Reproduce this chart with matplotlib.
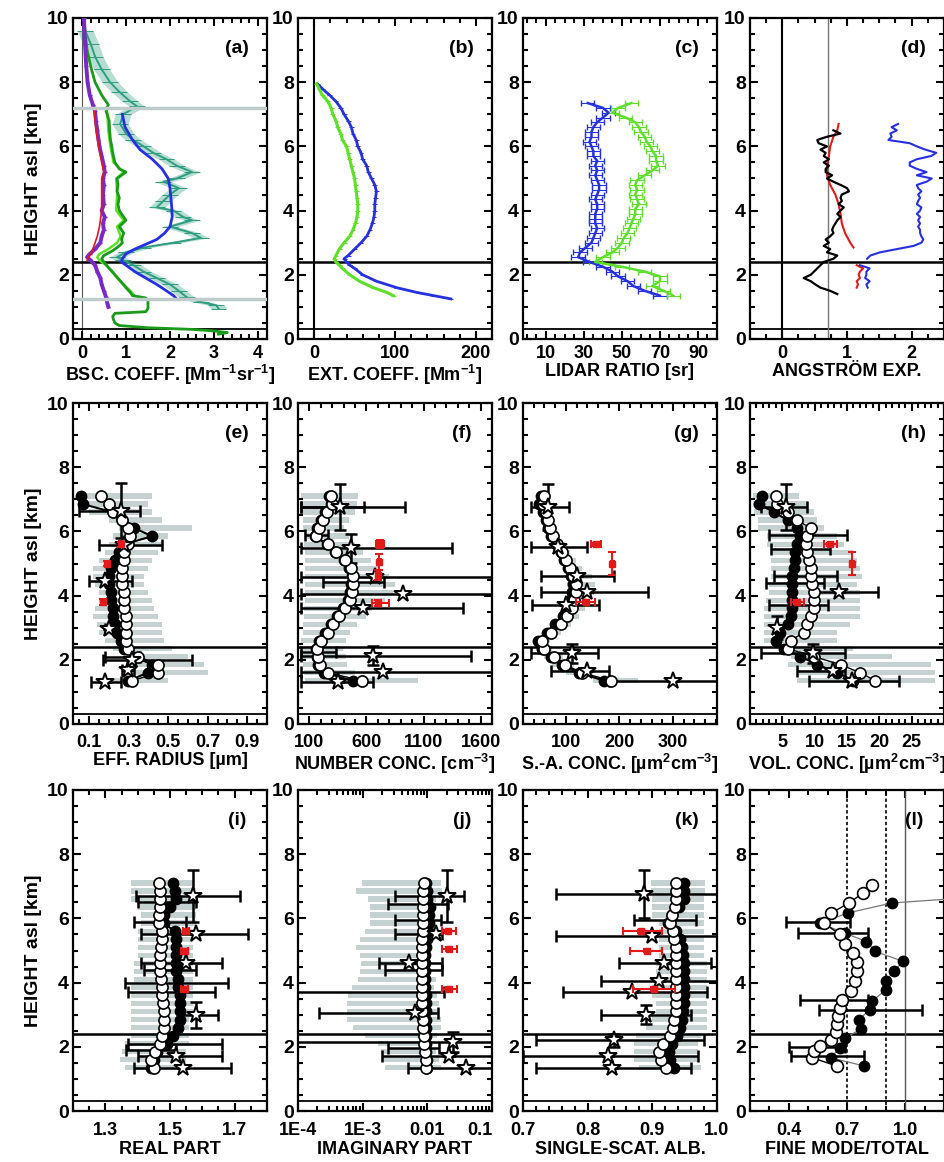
import numpy as np
import matplotlib
matplotlib.use("Agg")
import matplotlib.pyplot as plt
from matplotlib.ticker import MultipleLocator, NullFormatter, LogLocator

plt.rcParams['font.family'] = ['Liberation Sans Narrow', 'Liberation Sans', 'DejaVu Sans']
plt.rcParams['font.weight'] = 'bold'
plt.rcParams['mathtext.fontset'] = 'custom'
plt.rcParams['mathtext.rm'] = 'Liberation Sans:bold'
plt.rcParams['mathtext.default'] = 'rm'

# ---------------- colours ----------------
BLUE = '#2530e0'
LGREEN = '#5ee02a'
DGREEN = '#1a9a1a'
TEAL = '#2f9e80'
PURPLE = '#7a28c8'
RED = '#e21a1a'
GRAY = '#c6d2d2'

# ---------------- panel (a) backscatter ----------------
A_H_PU = [10, 9.5, 9, 8.5, 8, 7.6, 7.3, 7.1, 6.8, 6.5, 6.2, 6.0, 5.7, 5.4, 5.2, 5.0, 4.8, 4.5, 4.2, 4.0,
          3.8, 3.6, 3.4, 3.2, 3.0, 2.8, 2.65, 2.55, 2.45, 2.3, 2.1, 1.9, 1.7, 1.5, 1.3, 1.1, 1.0]
A_PU = [0.05, 0.06, 0.08, 0.1, 0.13, 0.18, 0.25, 0.3, 0.32, 0.35, 0.38, 0.4, 0.45, 0.5, 0.52, 0.48, 0.5, 0.48, 0.5, 0.45,
        0.52, 0.48, 0.5, 0.45, 0.42, 0.3, 0.18, 0.12, 0.2, 0.3, 0.35, 0.42, 0.45, 0.5, 0.55, 0.58, 0.6]
A_H_RD = [7.1, 6.5, 6.0, 5.5, 5.2, 5.0, 4.5, 4.0, 3.5, 3.2, 3.0, 2.8, 2.65, 2.55, 2.45]
A_RD = [0.28, 0.32, 0.38, 0.45, 0.5, 0.45, 0.45, 0.45, 0.4, 0.35, 0.3, 0.25, 0.2, 0.15, 0.12]
A_H_DG = [10, 9.5, 9, 8.5, 8, 7.6, 7.3, 7.1, 6.8, 6.5, 6.2, 6.0, 5.8, 5.5, 5.3, 5.2, 5.0, 4.8, 4.6, 4.4,
          4.2, 4.0, 3.8, 3.7, 3.5, 3.3, 3.1, 3.0, 2.9, 2.75, 2.6, 2.5, 2.4, 2.2, 2.0, 1.8, 1.6, 1.45, 1.35, 1.28,
          1.2, 0.95, 0.85, 0.8, 0.7, 0.6, 0.5, 0.42, 0.35, 0.3, 0.25, 0.2, 0.15]
A_DG = [0.05, 0.08, 0.12, 0.2, 0.3, 0.45, 0.6, 0.55, 0.62, 0.63, 0.65, 0.68, 0.7, 0.75, 0.85, 1.0, 0.8, 0.82, 0.8, 0.85,
        0.82, 0.85, 0.95, 1.0, 0.85, 0.95, 0.9, 0.92, 0.85, 0.7, 0.5, 0.45, 0.5, 0.62, 0.75, 0.88, 1.0, 1.1, 1.15, 1.45,
        1.5, 1.5, 1.45, 0.75, 0.7, 0.72, 0.75, 0.85, 1.5, 2.5, 3.0, 3.3, 3.1]
A_H_LG = [7.2, 7.0, 6.5, 6.0, 5.5, 5.2, 5.0, 4.5, 4.0, 3.7, 3.5, 3.2, 3.0, 2.8, 2.65, 2.55, 2.45, 2.3, 2.1, 1.9,
          1.7, 1.5, 1.35]
A_LG = [0.55, 0.58, 0.6, 0.65, 0.72, 0.95, 0.78, 0.8, 0.78, 0.95, 0.8, 0.88, 0.8, 0.6, 0.4, 0.35, 0.4, 0.55, 0.7, 0.8,
        0.95, 1.1, 1.2]
A_H_TE = [9.6, 9.2, 8.8, 8.4, 8.0, 7.7, 7.4, 7.25, 7.0, 6.7, 6.4, 6.2, 6.0, 5.8, 5.6, 5.4, 5.2, 5.0, 4.9, 4.7,
          4.5, 4.3, 4.1, 4.0, 3.8, 3.7, 3.5, 3.3, 3.15, 3.0, 2.85, 2.7, 2.55, 2.45, 2.3, 2.1, 1.9, 1.7, 1.5, 1.3,
          1.15, 1.05, 0.95]
A_TE = [0.08, 0.2, 0.3, 0.45, 0.64, 0.85, 1.1, 1.25, 0.94, 0.87, 1.0, 1.17, 1.4, 1.62, 1.92, 2.15, 2.5, 2.15, 1.85, 2.2,
        2.0, 1.85, 1.7, 2.08, 2.3, 2.5, 2.0, 2.5, 2.7, 2.08, 1.4, 1.0, 0.8, 0.94, 1.17, 1.4, 1.7, 2.0, 2.2, 2.38,
        2.7, 3.05, 3.1]
A_TE_ERR = 0.18
A_H_BL = [7.0, 6.6, 6.2, 5.9, 5.6, 5.3, 5.0, 4.7, 4.4, 4.1, 3.8, 3.5, 3.3, 3.1, 2.95, 2.8, 2.65, 2.5, 2.4, 2.25,
          2.1, 1.9, 1.7, 1.5, 1.35, 1.25]
A_BL = [0.92, 0.98, 1.15, 1.32, 1.6, 1.82, 1.96, 2.0, 2.02, 2.04, 2.05, 2.0, 1.88, 1.7, 1.45, 1.2, 1.0, 0.92, 0.9, 1.05,
        1.2, 1.45, 1.7, 1.92, 2.08, 2.15]
A_GRAYLINES = [7.2, 1.25]

# ---------------- panel (b) extinction ----------------
B_H = [7.95, 7.8, 7.6, 7.4, 7.2, 7.0, 6.8, 6.6, 6.4, 6.2, 6.0, 5.8, 5.6, 5.4, 5.2, 5.0, 4.8, 4.6, 4.4, 4.2,
       4.0, 3.8, 3.6, 3.4, 3.2, 3.0, 2.8, 2.6, 2.5, 2.4, 2.3, 2.2, 2.0, 1.8, 1.6, 1.45, 1.35, 1.25]
B_BLUE = [4, 10, 19, 27, 33, 37, 42, 46, 48, 52, 54, 58, 60, 65, 67, 71, 75, 77, 76, 75,
          75, 74, 72, 69, 65, 58, 50, 42, 37, 40, 44, 50, 60, 77, 102, 127, 148, 169]
B_GREEN = [3, 6, 10, 17, 21, 23, 27, 29, 33, 35, 40, 42, 44, 46, 48, 50, 51, 52, 53, 54,
           54, 53, 51, 48, 44, 37, 31, 27, 25, 27, 31, 35, 44, 56, 73, 90, 98, np.nan]

# ---------------- panel (c) lidar ratio ----------------
C_H = [7.35, 7.2, 7.05, 6.9, 6.75, 6.6, 6.45, 6.3, 6.15, 6.0, 5.85, 5.7, 5.55, 5.4, 5.25, 5.1, 4.95, 4.8, 4.65, 4.5,
       4.35, 4.2, 4.05, 3.9, 3.75, 3.6, 3.45, 3.3, 3.15, 3.0, 2.85, 2.7, 2.55, 2.4, 2.25, 2.1, 1.95, 1.8, 1.65, 1.5, 1.35]
C_BLUE = [32, 40, 43, 40, 37, 35, 34, 34, 33, 34, 35, 35, 37, 36, 37, 36, 37, 38, 38, 37,
          36, 37, 37, 36, 36, 36, 37, 36, 35, 34, 31, 28, 27, 33, 40, 45, 48, 53, 56, 62, 70]
C_GREEN = [55, 48, 45, 52, 57, 59, 60, 62, 63, 65, 66, 68, 68, 69, 66, 62, 58, 57, 58, 57,
           58, 59, 57, 57, 56, 55, 54, 53, 51, 50, 48, 45, 40, 36, 50, 62, 70, 70, 66, 72, 77]

# ---------------- panel (d) Angstrom ----------------
D_H_BK = [6.5, 6.4, 6.3, 6.2, 6.1, 6.0, 5.9, 5.8, 5.7, 5.6, 5.5, 5.4, 5.3, 5.2, 5.1, 5.0, 4.9, 4.8, 4.7, 4.6,
          4.5, 4.4, 4.3, 4.2, 4.1, 4.0, 3.9, 3.8, 3.7, 3.6, 3.5, 3.4, 3.3, 3.2, 3.1, 3.0, 2.9, 2.8, 2.7, 2.6,
          2.5, 2.4, 2.3, 2.2, 2.1, 2.0, 1.9, 1.8, 1.7, 1.6, 1.5, 1.4]
D_BK = [0.79, 0.9, 0.69, 0.54, 0.56, 0.69, 0.59, 0.67, 0.64, 0.72, 0.64, 0.72, 0.67, 0.67, 0.77, 0.69, 0.79, 0.9, 1.0, 1.03,
        0.92, 0.9, 0.92, 0.87, 0.95, 0.9, 0.85, 0.9, 0.85, 0.82, 0.79, 0.77, 0.79, 0.74, 0.67, 0.72, 0.64, 0.74, 0.69, 0.85,
        0.79, 0.64, 0.59, 0.54, 0.49, 0.44, 0.33, 0.44, 0.51, 0.59, 0.74, 0.85]
D_H_RD1 = [6.7, 6.5, 6.3, 6.0, 5.7, 5.4, 5.1, 4.8, 4.5, 4.2, 3.9, 3.6, 3.3, 3.0, 2.85]
D_RD1 = [0.87, 0.85, 0.79, 0.74, 0.72, 0.69, 0.69, 0.74, 0.82, 0.87, 0.9, 0.92, 0.97, 1.05, 1.1]
D_H_LOW = [2.3, 2.2, 2.1, 2.0, 1.9, 1.8, 1.7, 1.6]
D_RD2 = [1.15, 1.25, 1.2, 1.18, 1.2, 1.15, 1.17, 1.15]
D_H_BL1 = [6.7, 6.6, 6.5, 6.4, 6.3, 6.2, 6.1, 6.0, 5.9, 5.8, 5.7, 5.6, 5.5, 5.4, 5.3, 5.2, 5.1, 5.0, 4.9, 4.8,
           4.7, 4.6, 4.5, 4.4, 4.3, 4.2, 4.1, 4.0, 3.9, 3.8, 3.7, 3.6, 3.5, 3.4, 3.3, 3.2, 3.1, 3.0, 2.9, 2.8,
           2.7, 2.6, 2.5]
D_BL1 = [1.79, 1.69, 1.77, 1.67, 1.69, 1.64, 1.97, 2.08, 2.21, 2.38, 2.3, 2.08, 1.97, 1.97, 2.08, 2.23, 2.08, 2.31, 2.23, 2.08,
         2.1, 2.15, 2.1, 2.13, 2.1, 2.08, 2.15, 2.13, 2.08, 2.13, 2.1, 2.13, 2.1, 2.13, 2.13, 2.15, 2.18, 2.15, 2.03, 1.77,
         1.51, 1.36, 1.31]
D_BL2 = [1.2, 1.35, 1.3, 1.3, 1.28, 1.35, 1.3, 1.32]

# ---------------- profiles (e)-(k): common height grid ----------------
H = [1.35, 1.6, 1.85, 2.1, 2.35, 2.6, 2.85, 3.1, 3.35, 3.6, 3.85, 4.1, 4.35, 4.6, 4.85, 5.1, 5.35, 5.6, 5.85, 6.1,
     6.35, 6.6, 6.85, 7.1]

# (e) effective radius
E_FILL = [0.30, 0.40, 0.42, 0.33, 0.28, 0.26, 0.24, 0.23, 0.22, 0.22, 0.21, 0.21, 0.20, 0.20, 0.21, 0.23, 0.25, 0.28, 0.42, 0.33,
          0.27, 0.22, 0.07, 0.06]
E_OPEN = [0.32, 0.45, 0.45, 0.35, 0.30, 0.29, 0.29, 0.29, 0.29, 0.28, 0.28, 0.28, 0.27, 0.27, 0.27, 0.28, 0.28, 0.30, 0.31, 0.30,
          0.27, 0.22, 0.20, 0.16]
E_GLO = [0.22, 0.28, 0.30, 0.28, 0.22, 0.18, 0.15, 0.14, 0.12, 0.13, 0.15, 0.15, 0.13, 0.12, 0.12, 0.15, 0.18, 0.20, 0.22, 0.25,
         0.20, 0.10, 0.06, 0.05]
E_GHI = [0.50, 0.70, 0.68, 0.60, 0.52, 0.48, 0.47, 0.47, 0.45, 0.43, 0.42, 0.40, 0.38, 0.38, 0.40, 0.42, 0.45, 0.48, 0.50, 0.62,
         0.47, 0.42, 0.40, 0.42]
E_SH = [1.32, 1.67, 2.0, 2.97, 4.45, 5.57, 6.65]
E_SX = [0.18, 0.30, 0.32, 0.20, 0.18, 0.28, 0.26]
E_SLO = [0.11, 0.27, 0.17, 0.18, 0.10, 0.15, 0.05]
E_SHI = [0.26, 0.33, 0.62, 0.22, 0.32, 0.47, 0.36]
E_SYE = [0, 0, 0, 0, 0, 0, 0.85]
E_XH = [2.1]
E_XLO = [0.18]
E_XHI = [0.36]
E_RH = [3.8, 5.0, 5.6]
E_RX = [0.17, 0.19, 0.26]
E_RLO = [0.16, 0.18, 0.25]
E_RHI = [0.18, 0.20, 0.27]
E_RYE = [0.08, 0.08, 0.08]

# (f) number concentration
F_FILL = [480, 230, 175, 165, 160, 185, 240, 290, 340, 395, 440, 455, 465, 475, 450, 400, 320, 250, 145, 165,
          200, 235, 290, 270]
F_OPEN = [560, 260, 190, 175, 170, 200, 260, 310, 360, 410, 455, 470, 480, 485, 465, 415, 335, 260, 160, 180,
          215, 250, 300, 285]
F_GLO = [60, 50, 40, 40, 30, 30, 40, 40, 50, 50, 60, 60, 60, 60, 60, 60, 60, 50, 50, 40, 40, 40, 30, 30]
F_GHI = [1050, 500, 430, 420, 390, 420, 460, 520, 600, 650, 760, 830, 850, 800, 720, 640, 570, 500, 450, 400,
         450, 500, 520, 530]
F_SH = [1.32, 1.62, 2.13, 3.62, 4.06, 4.58, 5.47, 6.77]
F_SX = [350, 745, 658, 570, 923, 673, 468, 365]
F_SLO = [27, 27, 27, 27, 27, 27, 27, 30]
F_SHI = [660, 1800, 1520, 1450, 1800, 1800, 1350, 938]
F_SYE = [0, 0, 0.3, 0, 0, 0, 0.45, 0.72]
F_XH = [2.25, 4.42, 5.9, 6.77]
F_XLO = [27, 223, 60, 30]
F_XHI = [330, 750, 260, 580]
F_RH = [3.77, 4.65, 5.05, 5.6]
F_RX = [700, 705, 712, 715]
F_RLO = [650, 690, 700, 680]
F_RHI = [800, 720, 725, 750]
F_RYE = [0.1, 0.15, 0.25, 0.12]

# (g) surface-area concentration
G_FILL = [171, 125, 92, 72, 55, 48, 65, 80, 94, 104, 108, 112, 113, 110, 104, 97, 90, 81, 72, 66,
          62, 58, 50, 53]
G_OPEN = [184, 130, 98, 78, 60, 55, 72, 90, 103, 112, 116, 118, 118, 114, 108, 100, 92, 84, 76, 70,
          66, 62, 58, 60]
G_GLO = [150, 100, 75, 60, 45, 40, 55, 70, 85, 95, 100, 103, 103, 100, 95, 88, 80, 72, 64, 58,
         54, 50, 42, 45]
G_GHI = [235, 150, 115, 95, 75, 70, 90, 110, 125, 135, 140, 152, 155, 148, 130, 118, 108, 98, 88, 80,
         76, 72, 66, 65]
G_SH = [1.35, 1.65, 2.2, 3.7, 4.1, 4.6, 5.5, 6.77]
G_SX = [300, 140, 112, 100, 140, 120, 85, 66]
G_SLO = [180, 73, 35, 37, 53, 53, 35, 35]
G_SHI = [400, 180, 160, 162, 253, 190, 140, 106]
G_SYE = [0, 0, 0.3, 0, 0, 0, 0, 0.72]
G_XH = []
G_XLO = []
G_XHI = []
G_RH = [3.8, 5.0, 5.6]
G_RX = [137, 187, 156]
G_RLO = [119, 184, 146]
G_RHI = [155, 190, 166]
G_RYE = [0.05, 0.35, 0.05]

# (h) volume concentration
V_FILL = [16.0, 13.5, 10.4, 7.8, 5.3, 4.0, 4.7, 5.8, 6.3, 6.5, 6.5, 6.5, 6.5, 6.5, 6.8, 7.0, 7.0, 7.3, 7.8, 7.3,
          5.8, 3.7, 1.4, 1.9]
V_OPEN = [19.4, 17.0, 14.0, 9.9, 5.8, 6.3, 8.3, 8.8, 9.4, 9.9, 9.9, 9.9, 9.6, 9.4, 9.4, 9.1, 8.8, 8.6, 8.8, 9.4,
          7.3, 5.8, 4.2, 4.0]
V_GLO = [7.3, 7.3, 5.8, 6.3, 6.3, 2.2, 2.2, 2.2, 2.2, 2.2, 2.5, 3.0, 3.0, 3.2, 3.2, 3.2, 3.2, 2.7, 2.7, 1.2,
         1.2, 0.6, 0.4, 0.4]
V_GHI = [28.6, 28.6, 28.0, 22.0, 16.0, 13.5, 13.5, 15.5, 17.0, 17.0, 17.0, 17.0, 16.6, 17.3, 17.0, 16.5, 16.0, 14.5, 13.5, 11.4,
         10.4, 9.9, 8.9, 7.6]
V_SH = [1.35, 1.65, 2.2, 3.0, 4.1, 6.77]
V_SX = [15.8, 12.9, 9.8, 4.2, 13.7, 5.5]
V_SLO = [9.1, 7.3, 1.7, 4.2, 9.8, 1.7]
V_SHI = [23.0, 14.7, 14.7, 4.2, 19.8, 8.8]
V_SYE = [0, 0, 0.3, 0.35, 0, 0.72]
V_XH = [3.7, 4.4, 4.6, 5.45, 5.9]
V_XLO = [3.0, 2.4, 3.7, 3.2, 3.0]
V_XHI = [12.0, 11.4, 13.5, 12.4, 15.0]
V_RH = [3.8, 5.0, 5.6]
V_RX = [7.3, 15.8, 12.4]
V_RLO = [6.3, 15.5, 11.4]
V_RHI = [8.3, 16.1, 13.4]
V_RYE = [0.05, 0.35, 0.05]

# (i) real part
I_FILL = [1.44, 1.45, 1.46, 1.49, 1.51, 1.525, 1.53, 1.53, 1.53, 1.53, 1.525, 1.525, 1.52, 1.52, 1.52, 1.52, 1.52, 1.515, 1.48, 1.48,
          1.50, 1.52, 1.515, 1.51]
I_OPEN = [1.45, 1.44, 1.455, 1.47, 1.475, 1.48, 1.48, 1.48, 1.478, 1.475, 1.475, 1.472, 1.47, 1.47, 1.47, 1.472, 1.475, 1.475, 1.465, 1.465,
          1.47, 1.47, 1.47, 1.465]
I_GLO = [1.36, 1.345, 1.35, 1.36, 1.38, 1.38, 1.38, 1.38, 1.38, 1.38, 1.38, 1.39, 1.39, 1.39, 1.40, 1.40, 1.40, 1.40, 1.41, 1.41,
         1.40, 1.38, 1.38, 1.38]
I_GHI = [1.55, 1.55, 1.55, 1.56, 1.56, 1.56, 1.56, 1.57, 1.57, 1.57, 1.57, 1.57, 1.57, 1.57, 1.57, 1.57, 1.57, 1.57, 1.58, 1.58,
         1.58, 1.58, 1.58, 1.57]
I_SH = [1.35, 1.7, 3.0, 4.6, 5.5, 6.7]
I_SX = [1.54, 1.52, 1.58, 1.55, 1.58, 1.57]
I_SLO = [1.39, 1.40, 1.53, 1.41, 1.41, 1.395]
I_SHI = [1.69, 1.66, 1.65, 1.66, 1.74, 1.715]
I_SYE = [0, 0, 0.4, 0, 0, 0.8]
I_XH = [1.9, 2.1, 3.7, 4.0, 4.4, 5.9, 6.5]
I_XLO = [1.365, 1.37, 1.37, 1.36, 1.42, 1.39, 1.40]
I_XHI = [1.52, 1.66, 1.64, 1.68, 1.58, 1.55, 1.58]
I_RH = [3.8, 5.0, 5.6]
I_RX = [1.545, 1.545, 1.55]
I_RLO = [1.535, 1.535, 1.54]
I_RHI = [1.555, 1.555, 1.56]
I_RYE = [0.05, 0.05, 0.05]

# (j) imaginary part
J_FILL = [0.0098, 0.0098, 0.0097, 0.0097, 0.0096, 0.0096, 0.0095, 0.0095, 0.0094, 0.0094, 0.0093, 0.0093, 0.0093, 0.0092, 0.0093,
          0.0095, 0.0098, 0.0102, 0.0105, 0.0108, 0.0110, 0.0100, 0.0098, 0.0096]
J_OPEN = [0.0095, 0.0095, 0.0093, 0.0090, 0.0088, 0.0086, 0.0085, 0.0084, 0.0083, 0.0083, 0.0083, 0.0083, 0.0083, 0.0083, 0.0083,
          0.0083, 0.0084, 0.0085, 0.0085, 0.0085, 0.0085, 0.0085, 0.0087, 0.0090]
J_GLO = [0.0022, 0.0020, 0.0019, 0.0017, 0.0011, 0.0007, 0.00058, 0.00057, 0.00057, 0.00060, 0.00068, 0.00085, 0.00090, 0.00095,
         0.00090, 0.00080, 0.00090, 0.0011, 0.0013, 0.0013, 0.0013, 0.0012, 0.00080, 0.00098]
J_GHI = [0.016, 0.015, 0.0135, 0.0115, 0.014, 0.016, 0.016, 0.014, 0.015, 0.014, 0.0125, 0.0135, 0.0115, 0.0115, 0.011,
         0.0105, 0.0105, 0.011, 0.0115, 0.0115, 0.012, 0.0135, 0.017, 0.016]
J_SH = [1.35, 1.7, 2.15, 3.05, 4.6, 5.5, 6.7]
J_SX = [0.04, 0.022, 0.025, 0.0065, 0.0052, 0.0135, 0.0204]
J_SLO = [0.005, 0.002, 0.00005, 0.00021, 0.0018, 0.0032, 0.0032]
J_SHI = [0.2, 0.2, 0.2, 0.0145, 0.017, 0.017, 0.037]
J_SYE = [0, 0, 0.3, 0, 0, 0, 0.8]
J_XH = [1.95, 3.7, 4.4, 5.95, 6.45]
J_XLO = [0.0025, 0.00005, 0.0022, 0.0032, 0.0025]
J_XHI = [0.015, 0.018, 0.017, 0.0165, 0.021]
J_RH = [3.8, 5.05, 5.6]
J_RX = [0.022, 0.022, 0.021]
J_RLO = [0.017, 0.017, 0.017]
J_RHI = [0.029, 0.029, 0.028]
J_RYE = [0.05, 0.05, 0.05]

# (k) single-scattering albedo
K_FILL = [0.933, 0.928, 0.926, 0.931, 0.938, 0.943, 0.946, 0.948, 0.949, 0.949, 0.949, 0.949, 0.949, 0.949, 0.948, 0.946, 0.943,
          0.936, 0.925, 0.931, 0.941, 0.949, 0.949, 0.949]
K_OPEN = [0.921, 0.913, 0.911, 0.916, 0.928, 0.932, 0.934, 0.936, 0.936, 0.936, 0.936, 0.936, 0.936, 0.936, 0.936, 0.936, 0.934,
          0.932, 0.928, 0.930, 0.935, 0.937, 0.937, 0.936]
K_GLO = [0.88, 0.872, 0.872, 0.872, 0.875, 0.89, 0.9, 0.905, 0.905, 0.9, 0.9, 0.905, 0.905, 0.905, 0.91, 0.91, 0.91, 0.91, 0.91,
         0.9, 0.9, 0.9, 0.898, 0.898]
K_GHI = [0.975, 0.97, 0.97, 0.97, 0.975, 0.985, 0.985, 0.985, 0.985, 0.985, 0.985, 0.985, 0.985, 0.985, 0.98, 0.98, 0.98, 0.98,
         0.98, 0.98, 0.98, 0.98, 0.982, 0.982]
K_SH = [1.35, 1.7, 2.2, 3.0, 3.7, 4.05, 4.6, 5.45, 6.75]
K_SX = [0.838, 0.831, 0.841, 0.89, 0.869, 0.91, 0.918, 0.9, 0.887]
K_SLO = [0.72, 0.70, 0.72, 0.82, 0.762, 0.82, 0.849, 0.751, 0.751]
K_SHI = [0.96, 0.97, 0.98, 0.96, 0.985, 1.0, 0.99, 1.0, 1.0]
K_SYE = [0, 0, 0.2, 0.3, 0, 0, 0, 0, 0.75]
K_XH = [5.95]
K_XLO = [0.872]
K_XHI = [0.967]
K_RH = [3.8, 5.0, 5.6]
K_RX = [0.903, 0.892, 0.882]
K_RLO = [0.87, 0.865, 0.855]
K_RHI = [0.935, 0.915, 0.915]
K_RYE = [0.05, 0.05, 0.05]

# (l) fine mode / total
L_OH = [1.4, 1.66, 1.87, 2.02, 2.2, 2.45, 2.7, 2.95, 3.2, 3.45, 3.75, 4.05, 4.35, 4.65, 4.92, 5.2, 5.5, 5.85, 6.17, 6.48,
        6.8, 7.05]
L_OPEN = [0.648, 0.52, 0.53, 0.563, 0.62, 0.645, 0.648, 0.652, 0.665, 0.675, 0.72, 0.74, 0.75, 0.75, 0.733, 0.69, 0.665, 0.58,
          0.62, 0.71, 0.785, 0.828]
L_FH = [1.4, 1.66, 1.97, 2.28, 2.54, 2.85, 3.16, 3.42, 3.78, 4.04, 4.35, 4.66, 4.97, 5.28, 5.54, 5.85, 6.17, 6.48, 6.7]
L_FILL = [0.79, 0.615, 0.665, 0.69, 0.77, 0.76, 0.82, 0.83, 0.9, 0.9, 0.94, 0.99, 0.845, 0.8, 0.69, 0.56, 0.705, 0.93, 1.45]
L_XH = [1.72, 2.0, 3.15, 3.45, 5.55, 5.88]
L_XLO = [0.41, 0.40, 0.556, 0.46, 0.45, 0.383]
L_XHI = [0.79, 0.69, 1.086, 0.81, 0.81, 0.716]
L_VLINES_DOT = [0.7, 0.9]
L_VLINE_SOLID = 1.0

LAYER_TOP = 2.4
GROUND = 0.3

# ---------------- figure ----------------
fig = plt.figure(figsize=(9.45, 11.62), dpi=100)
LEFTS = [73 / 945, 298 / 945, 523 / 945, 750 / 945]
W = 194 / 945
BOTS = [1 - 339 / 1162, 1 - 724 / 1162, 1 - 1111 / 1162]
HT = 321 / 1162
axes = [[fig.add_axes([LEFTS[c], BOTS[r], W, HT]) for c in range(4)] for r in range(3)]
XPADS = [4, 7, 8]


def setup(ax, row, xlim, ticks, labels, minor, xlabel, letter, log=False):
    if log:
        ax.set_xscale('log')
    ax.set_xlim(*xlim)
    ax.set_ylim(0, 10)
    ax.set_xticks(ticks)
    ax.set_xticklabels(labels)
    if log:
        ax.xaxis.set_minor_locator(LogLocator(base=10, subs=np.arange(2, 10)))
        ax.xaxis.set_minor_formatter(NullFormatter())
    else:
        ax.xaxis.set_minor_locator(MultipleLocator(minor))
    ax.yaxis.set_major_locator(MultipleLocator(2))
    ax.yaxis.set_minor_locator(MultipleLocator(0.5))
    ax.tick_params(which='both', direction='in', top=True, right=True, width=1.5)
    ax.tick_params(which='major', length=6)
    ax.tick_params(which='minor', length=3.5)
    ax.tick_params(axis='y', labelsize=14, pad=3)
    ax.tick_params(axis='x', labelsize=13, pad=XPADS[row])
    for lab in ax.get_xticklabels() + ax.get_yticklabels():
        lab.set_fontweight('bold')
    for s in ax.spines.values():
        s.set_linewidth(1.6)
    ax.set_xlabel(xlabel, fontsize=13, fontweight='bold', labelpad=1)
    ax.text(0.845, 0.905, letter, transform=ax.transAxes, ha='center', va='center',
            fontsize=14, fontweight='bold')
    ax.axhline(LAYER_TOP, color='black', lw=1.8, zorder=2)
    ax.axhline(GROUND, color='black', lw=1.3, zorder=2)


def profile(ax, fill, opn, glo, ghi, sh, sx, slo, shi, sye, xh, xlo, xhi, rh, rx, rlo, rhi, rye):
    glo_a = np.array(glo)
    ghi_a = np.array(ghi)
    ax.barh(H, ghi_a - glo_a, left=glo_a, height=0.17, color=GRAY, edgecolor='none', zorder=1)
    if len(xh):
        xlo_a, xhi_a = np.array(xlo), np.array(xhi)
        mid = np.sqrt(xlo_a * xhi_a) if ax.get_xscale() == 'log' else (xlo_a + xhi_a) / 2
        ax.errorbar(mid, xh, xerr=[mid - xlo_a, xhi_a - mid], fmt='none', ecolor='black',
                    elinewidth=1.8, capsize=4, capthick=1.8, zorder=3)
    sx_a = np.array(sx)
    ax.errorbar(sx_a, sh, xerr=[sx_a - np.array(slo), np.array(shi) - sx_a], yerr=sye, fmt='none',
                ecolor='black', elinewidth=1.8, capsize=4, capthick=1.8, zorder=3)
    ax.plot(fill, H, '-', color='black', lw=1.5, marker='o', ms=7.5, mfc='black', mec='black', zorder=4)
    ax.plot(opn, H, '-', color='black', lw=1.0, marker='o', ms=8, mfc='white', mec='black', mew=1.2, zorder=4)
    ax.plot(sx, sh, linestyle='none', marker='*', ms=13, mfc='white', mec='black', mew=1.4, zorder=5)
    rx_a = np.array(rx)
    ax.errorbar(rx_a, rh, xerr=[rx_a - np.array(rlo), np.array(rhi) - rx_a], yerr=rye, fmt='s',
                color=RED, ms=5, elinewidth=1.5, capsize=3, capthick=1.5, zorder=6)


# ---- (a)
ax = axes[0][0]
setup(ax, 0, (-0.2, 4.2), [0, 1, 2, 3, 4], ['0', '1', '2', '3', '4'], 0.2,
      'BSC. COEFF. [Mm$^{-1}$sr$^{-1}$]', '(a)')
ax.axvline(0, color='#555555', lw=0.8, zorder=1)
te = np.array(A_TE)
ax.fill_betweenx(A_H_TE, te - A_TE_ERR, te + A_TE_ERR, color=TEAL, alpha=0.35, lw=0, zorder=2)
ax.errorbar(A_TE, A_H_TE, xerr=A_TE_ERR, color=TEAL, lw=1.4, elinewidth=0.7, capsize=0, zorder=3)
ax.plot(A_BL, A_H_BL, color=BLUE, lw=2.0, zorder=4)
ax.plot(A_LG, A_H_LG, color=LGREEN, lw=1.8, zorder=3)
ax.plot(A_DG, A_H_DG, color=DGREEN, lw=2.0, zorder=3)
ax.errorbar(A_PU, A_H_PU, xerr=0.04, color=PURPLE, lw=2.8, elinewidth=1.0, capsize=0, zorder=3)
ax.plot(A_RD, A_H_RD, color=RED, lw=1.2, zorder=4)
for yl in A_GRAYLINES:
    ax.axhline(yl, color='#c0cccc', lw=2.5, zorder=5)
ax.set_ylabel('HEIGHT asl [km]', fontsize=14, fontweight='bold')

# ---- (b)
ax = axes[0][1]
setup(ax, 0, (-20, 220), [0, 100, 200], ['0', '100', '200'], 20, 'EXT. COEFF. [Mm$^{-1}$]', '(b)')
ax.axvline(0, color='black', lw=1.5, zorder=2)
ax.errorbar(B_BLUE, B_H, xerr=3, color=BLUE, lw=2.0, elinewidth=0.7, zorder=3)
ax.errorbar(B_GREEN, B_H, xerr=3, color=LGREEN, lw=2.2, elinewidth=0.7, zorder=3)

# ---- (c)
ax = axes[0][2]
setup(ax, 0, (-2, 100), [10, 30, 50, 70, 90], ['10', '30', '50', '70', '90'], 5, 'LIDAR RATIO [sr]', '(c)')
ax.errorbar(C_BLUE, C_H, xerr=3.5, color=BLUE, lw=1.8, elinewidth=0.8, capsize=2, zorder=3)
ax.errorbar(C_GREEN, C_H, xerr=3.5, color=LGREEN, lw=1.8, elinewidth=0.8, capsize=2, zorder=3)

# ---- (d)
ax = axes[0][3]
setup(ax, 0, (-0.5, 2.5), [0, 1, 2], ['0', '1', '2'], 0.25, 'ANGSTRÖM EXP.', '(d)')
ax.axvline(0, color='black', lw=1.5, zorder=2)
ax.axvline(0.7, color='#777777', lw=1.0, zorder=2)
ax.plot(D_RD1, D_H_RD1, color=RED, lw=1.5, zorder=3)
ax.plot(D_RD2, D_H_LOW, color=RED, lw=1.5, zorder=3)
ax.plot(D_BL1, D_H_BL1, color=BLUE, lw=1.5, zorder=3)
ax.plot(D_BL2, D_H_LOW, color=BLUE, lw=1.5, zorder=3)
ax.plot(D_BK, D_H_BK, color='black', lw=1.6, zorder=4)

# ---- (e)
ax = axes[1][0]
setup(ax, 1, (0.02, 1.0), [0.1, 0.3, 0.5, 0.7, 0.9], ['0.1', '0.3', '0.5', '0.7', '0.9'], 0.05,
      'EFF. RADIUS [µm]', '(e)')
profile(ax, E_FILL, E_OPEN, E_GLO, E_GHI, E_SH, E_SX, E_SLO, E_SHI, E_SYE, E_XH, E_XLO, E_XHI,
        E_RH, E_RX, E_RLO, E_RHI, E_RYE)
ax.set_ylabel('HEIGHT asl [km]', fontsize=14, fontweight='bold')

# ---- (f)
ax = axes[1][1]
setup(ax, 1, (0, 1700), [100, 600, 1100, 1600], ['100', '600', '1100', '1600'], 100,
      'NUMBER CONC. [cm$^{-3}$]', '(f)')
profile(ax, F_FILL, F_OPEN, F_GLO, F_GHI, F_SH, F_SX, F_SLO, F_SHI, F_SYE, F_XH, F_XLO, F_XHI,
        F_RH, F_RX, F_RLO, F_RHI, F_RYE)

# ---- (g)
ax = axes[1][2]
setup(ax, 1, (20, 382), [100, 200, 300], ['100', '200', '300'], 20,
      'S.-A. CONC. [µm$^{2}$cm$^{-3}$]', '(g)')
profile(ax, G_FILL, G_OPEN, G_GLO, G_GHI, G_SH, G_SX, G_SLO, G_SHI, G_SYE, G_XH, G_XLO, G_XHI,
        G_RH, G_RX, G_RLO, G_RHI, G_RYE)

# ---- (h)
ax = axes[1][3]
setup(ax, 1, (0, 30), [5, 10, 15, 20, 25], ['5', '10', '15', '20', '25'], 1,
      'VOL. CONC. [µm$^{2}$cm$^{-3}$]', '(h)')
profile(ax, V_FILL, V_OPEN, V_GLO, V_GHI, V_SH, V_SX, V_SLO, V_SHI, V_SYE, V_XH, V_XLO, V_XHI,
        V_RH, V_RX, V_RLO, V_RHI, V_RYE)

# ---- (i)
ax = axes[2][0]
setup(ax, 2, (1.2, 1.8), [1.3, 1.5, 1.7], ['1.3', '1.5', '1.7'], 0.05, 'REAL PART', '(i)')
profile(ax, I_FILL, I_OPEN, I_GLO, I_GHI, I_SH, I_SX, I_SLO, I_SHI, I_SYE, I_XH, I_XLO, I_XHI,
        I_RH, I_RX, I_RLO, I_RHI, I_RYE)
ax.set_ylabel('HEIGHT asl [km]', fontsize=14, fontweight='bold')

# ---- (j)
ax = axes[2][1]
setup(ax, 2, (1e-4, 0.1), [1e-4, 1e-3, 1e-2, 1e-1], ['1E-4', '1E-3', '0.01', '0.1'], None,
      'IMAGINARY PART', '(j)', log=True)
xt = ax.get_xticklabels()
xt[-1].set_horizontalalignment('right')
profile(ax, J_FILL, J_OPEN, J_GLO, J_GHI, J_SH, J_SX, J_SLO, J_SHI, J_SYE, J_XH, J_XLO, J_XHI,
        J_RH, J_RX, J_RLO, J_RHI, J_RYE)

# ---- (k)
ax = axes[2][2]
setup(ax, 2, (0.7, 1.0), [0.7, 0.8, 0.9, 1.0], ['0.7', '0.8', '0.9', '1.0'], 0.02,
      'SINGLE-SCAT. ALB.', '(k)')
profile(ax, K_FILL, K_OPEN, K_GLO, K_GHI, K_SH, K_SX, K_SLO, K_SHI, K_SYE, K_XH, K_XLO, K_XHI,
        K_RH, K_RX, K_RLO, K_RHI, K_RYE)

# ---- (l)
ax = axes[2][3]
setup(ax, 2, (0.2, 1.2), [0.4, 0.7, 1.0], ['0.4', '0.7', '1.0'], 0.1, 'FINE MODE/TOTAL', '(l)')
for xv in L_VLINES_DOT:
    ax.axvline(xv, color='black', lw=1.2, ls=(0, (2, 1.5)), zorder=2)
ax.axvline(L_VLINE_SOLID, color='#555555', lw=1.0, zorder=2)
lxlo, lxhi = np.array(L_XLO), np.array(L_XHI)
lmid = (lxlo + lxhi) / 2
ax.errorbar(lmid, L_XH, xerr=[lmid - lxlo, lxhi - lmid], fmt='none', ecolor='black',
            elinewidth=1.8, capsize=4, capthick=1.8, zorder=3)
ax.plot(L_FILL, L_FH, '-', color='#777777', lw=0.9, marker='o', ms=7.5, mfc='black', mec='black', zorder=4)
ax.plot(L_OPEN, L_OH, '-', color='black', lw=1.0, marker='o', ms=8.5, mfc='white', mec='black', mew=1.2, zorder=4)

fig.savefig('out.png', dpi=100)
